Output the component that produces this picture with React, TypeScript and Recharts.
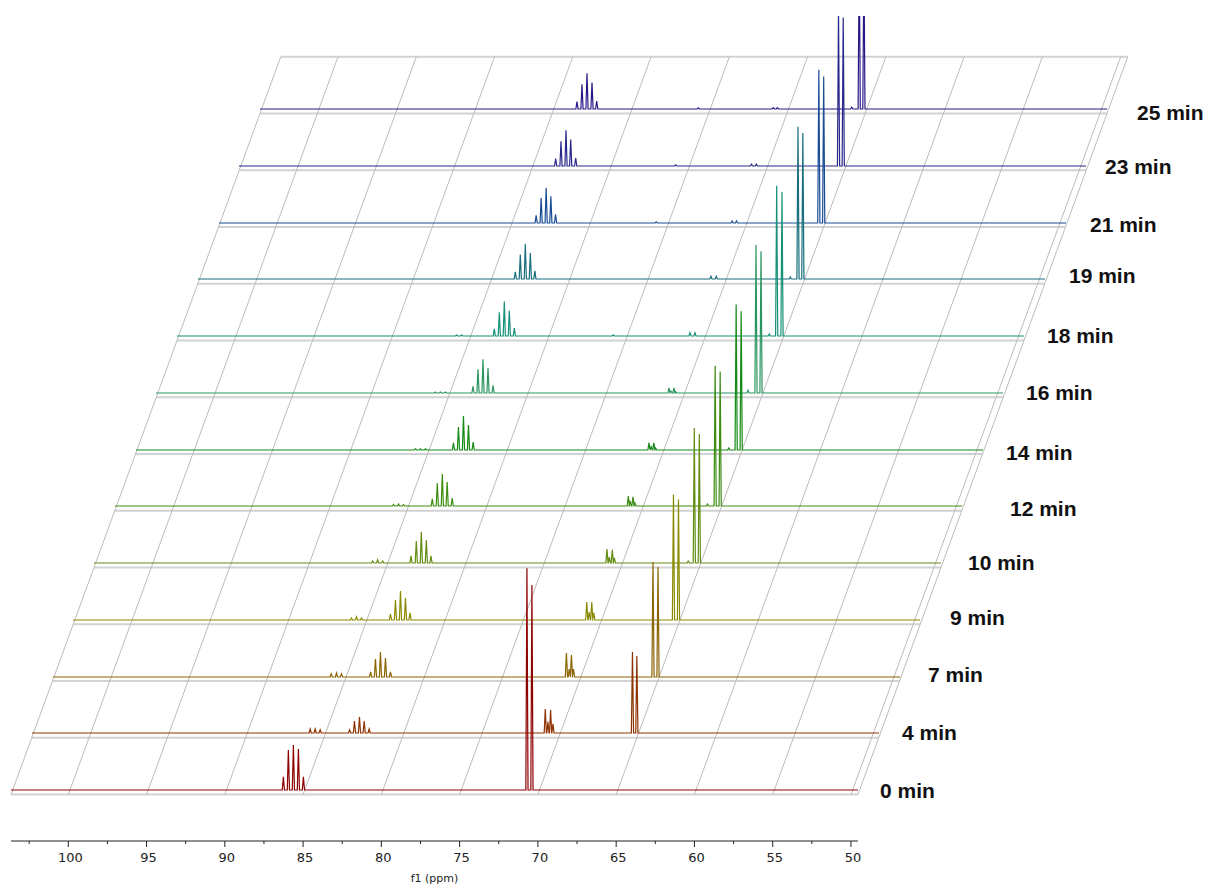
import { ComposedChart, LineChart, Line, XAxis, YAxis, ReferenceLine } from 'recharts';

// time point of each trace, bottom to top
const TIMES = ['0 min', '4 min', '7 min', '9 min', '10 min', '12 min', '14 min', '16 min', '18 min', '19 min', '21 min', '23 min', '25 min'];

const COLORS = [
  '#8f0000', '#8f3300', '#8c6400', '#8a8a00', '#628c12', '#3d8c12', '#168a16',
  '#2a9560', '#169077', '#186d7d', '#194c96', '#28288c', '#2b1888',
];

// peak lists per trace: [ppm, intensity] (tallest 0 min peak = 100)
const PEAKS_0: [number, number][] = [
  [86.26, 5.9], [85.94, 18.0], [85.62, 20.3], [85.3, 18.5], [84.98, 5.9],
  [70.7, 100], [70.38, 92.5],
];
const PEAKS_4: [number, number][] = [
  [85.89, 1.8], [85.57, 1.8], [85.25, 1.4],
  [83.37, 1.4], [83.06, 5.4], [82.74, 7.2], [82.44, 5.4], [82.12, 1.8],
  [70.87, 10.8], [70.7, 5.0], [70.53, 10.4], [70.38, 4.1],
  [65.3, 36.5], [65.02, 34.7],
];
const PEAKS_7: [number, number][] = [
  [85.89, 1.4], [85.55, 1.8], [85.23, 1.4],
  [83.37, 2.3], [83.06, 8.1], [82.74, 11.3], [82.42, 8.6], [82.1, 2.3],
  [70.86, 10.8], [70.68, 3.6], [70.54, 9.9], [70.41, 3.6],
  [65.33, 51.9], [65.01, 49.6],
];
const PEAKS_9: [number, number][] = [
  [85.87, 0.9], [85.55, 1.4], [85.23, 0.9],
  [83.38, 2.7], [83.06, 9.0], [82.74, 13.1], [82.42, 9.9], [82.13, 3.2],
  [70.84, 8.1], [70.68, 3.6], [70.52, 8.1], [70.39, 3.2],
  [65.3, 56.6], [64.98, 54.3],
];
const PEAKS_10: [number, number][] = [
  [85.86, 0.9], [85.54, 1.4], [85.22, 0.9],
  [83.41, 3.2], [83.07, 9.9], [82.75, 14.0], [82.43, 10.4], [82.13, 3.2],
  [70.89, 6.3], [70.74, 2.7], [70.55, 5.9], [70.42, 2.3],
  [65.7, 0.9], [65.31, 60.9], [64.99, 58.2],
];
const PEAKS_12: [number, number][] = [
  [85.87, 0.7], [85.55, 0.9], [85.23, 0.7],
  [83.39, 3.2], [83.07, 10.4], [82.75, 14.4], [82.44, 10.8], [82.12, 3.6],
  [70.87, 4.5], [70.75, 2.3], [70.57, 4.1], [70.45, 1.4],
  [65.81, 0.9], [65.32, 63.3], [65.0, 60.7],
];
const PEAKS_14: [number, number][] = [
  [85.81, 0.5], [85.49, 0.5], [85.17, 0.5],
  [83.38, 3.2], [83.06, 10.4], [82.74, 15.3], [82.42, 11.3], [82.12, 3.6],
  [70.89, 3.2], [70.75, 1.4], [70.58, 3.2], [70.46, 0.9],
  [65.79, 0.9], [65.32, 65.6], [65.0, 62.6],
];
const PEAKS_16: [number, number][] = [
  [85.81, 0.45], [85.49, 0.45], [85.17, 0.45],
  [83.41, 3.0], [83.09, 10.7], [82.77, 15.2], [82.45, 11.3], [82.13, 3.5],
  [70.89, 2.3], [70.76, 0.9], [70.57, 2.3], [70.46, 0.6],
  [65.84, 1.2], [65.33, 66.8], [65.01, 63.9],
];
const PEAKS_18: [number, number][] = [
  [85.8, 0.4], [85.47, 0.4],
  [83.39, 3.2], [83.07, 10.7], [82.75, 15.5], [82.43, 11.4], [82.11, 3.6],
  [75.79, 0.5],
  [70.89, 1.5], [70.57, 1.4],
  [65.82, 0.9], [65.35, 67.8], [65.01, 64.9],
];
const PEAKS_19: [number, number][] = [
  [83.39, 3.2], [83.07, 11.0], [82.75, 15.8], [82.43, 11.7], [82.14, 3.7],
  [70.89, 1.2], [70.55, 1.2],
  [65.82, 0.9], [65.33, 68.7], [65.02, 65.8],
];
const PEAKS_21: [number, number][] = [
  [83.4, 3.5], [83.08, 11.3], [82.76, 15.9], [82.46, 12.0], [82.16, 3.9],
  [75.73, 0.5],
  [70.88, 0.9], [70.6, 0.9],
  [65.34, 69.1], [65.03, 66.1],
];
const PEAKS_23: [number, number][] = [
  [83.43, 3.3], [83.09, 11.1], [82.77, 16.1], [82.47, 11.9], [82.15, 3.6],
  [75.76, 0.5],
  [70.92, 0.8], [70.61, 0.8],
  [65.36, 70.0], [65.06, 67.0],
];
const PEAKS_25: [number, number][] = [
  [83.41, 3.3], [83.09, 11.1], [82.77, 16.1], [82.45, 11.9], [82.15, 3.6],
  [75.66, 0.5],
  [70.87, 0.6], [70.61, 0.6],
  [65.86, 0.8], [65.38, 70.5], [65.08, 67.5],
];

const PEAKS = [
  PEAKS_0, PEAKS_4, PEAKS_7, PEAKS_9, PEAKS_10, PEAKS_12, PEAKS_14,
  PEAKS_16, PEAKS_18, PEAKS_19, PEAKS_21, PEAKS_23, PEAKS_25,
];

const TICKS = [50, 52.5, 55, 57.5, 60, 62.5, 65, 67.5, 70, 72.5, 75, 77.5, 80, 82.5, 85, 87.5, 90, 92.5, 95, 97.5, 100, 102.5];
const GRID_PPM = [100, 95, 90, 85, 80, 75, 70, 65, 60, 55, 50];

// layout
const W = 1210;
const H = 887;
const PPM_MIN = 49.55;
const PPM_MAX = 103.66;
const PLOT_LEFT = 11;
const PLOT_RIGHT = 858;
const BASE_Y = 790; // baseline of the 0 min trace
const FLOOR_GAP = 4.5; // grey floor line below each baseline
const ROW_DX = 20.75;
const ROW_DY = 56.75;
const AXIS_Y = 841;
const CLIP_TOP = 16;
const PX_PER_UNIT = 2.217;
const HALF_WIDTH = 0.07;
const N_ROWS = 13;
const LABEL_POS: [number, number][] = [
  [880, 790], [902, 732], [928, 674], [950, 617], [968, 562], [1010, 508], [1006, 452],
  [1026, 392], [1047, 335], [1069, 275], [1090, 224], [1105, 166], [1137, 112],
];

const PLOT_W = PLOT_RIGHT - PLOT_LEFT;
const PPM_PER_ROW = ROW_DX / (PLOT_W / (PPM_MAX - PPM_MIN));
const FLOOR_Y = BASE_Y + FLOOR_GAP;
const GRID_TOP = FLOOR_Y - N_ROWS * ROW_DY;
const TRACE_H = BASE_Y - CLIP_TOP;

const buildTrace = (peaks: [number, number][]) => {
  const pts = [{ ppm: PPM_MAX, v: 0 }];
  [...peaks].sort((a, b) => b[0] - a[0]).forEach(([p, h]) => {
    pts.push({ ppm: p + HALF_WIDTH, v: 0 }, { ppm: p, v: h }, { ppm: p - HALF_WIDTH, v: 0 });
  });
  pts.push({ ppm: PPM_MIN, v: 0 });
  return pts;
};

const AxisTick = (props: any) => {
  const { x, y, payload } = props;
  const major = payload.value % 5 === 0;
  return (
    <g>
      <line x1={x} x2={x} y1={y} y2={y + (major ? 6 : 3)} stroke="#222" />
      {major && (
        <text x={x + 2} y={y + 21} textAnchor="middle" fontSize={13} fontFamily="DejaVu Sans" fill="#222">
          {payload.value}
        </text>
      )}
    </g>
  );
};

const App = () => {
  const traces = PEAKS.map(buildTrace);
  const rows = Array.from({ length: N_ROWS }, (_, k) => k);
  const yMin = -(AXIS_Y - FLOOR_Y) / ROW_DY;
  const edges = [PPM_MAX, ...GRID_PPM, PPM_MIN];

  return (
    <div style={{ position: 'absolute', left: 0, top: 0, width: W, height: H, background: '#fff', fontFamily: 'DejaVu Sans' }}>
      <ComposedChart
        width={W}
        height={H}
        data={[]}
        margin={{ top: GRID_TOP, right: W - PLOT_RIGHT, bottom: 0, left: PLOT_LEFT }}
      >
        <XAxis
          type="number"
          dataKey="ppm"
          domain={[PPM_MIN, PPM_MAX]}
          reversed
          allowDataOverflow
          ticks={TICKS}
          interval={0}
          height={H - AXIS_Y}
          tickSize={0}
          tickMargin={0}
          tickLine={false}
          tick={AxisTick}
          axisLine={{ stroke: '#222' }}
          label={{ value: 'f1 (ppm)', position: 'insideBottom', offset: 5, fontSize: 11, fill: '#222', fontFamily: 'DejaVu Sans' }}
        />
        <YAxis type="number" domain={[yMin, N_ROWS]} hide allowDataOverflow />
        {rows.concat(N_ROWS).map((r) => (
          <ReferenceLine
            key={`floor-${r}`}
            segment={[
              { x: PPM_MAX - r * PPM_PER_ROW, y: r },
              { x: PPM_MIN - r * PPM_PER_ROW, y: r },
            ]}
            stroke="#d2d2d2"
            strokeWidth={2}
            ifOverflow="visible"
          />
        ))}
        {edges.map((p) => (
          <ReferenceLine
            key={`slant-${p}`}
            segment={[
              { x: p, y: 0 },
              { x: p - N_ROWS * PPM_PER_ROW, y: N_ROWS },
            ]}
            stroke="#bcbcbc"
            strokeWidth={1}
            ifOverflow="visible"
          />
        ))}
      </ComposedChart>

      <div style={{ position: 'absolute', left: 0, top: CLIP_TOP, width: W, height: AXIS_Y - CLIP_TOP, overflow: 'hidden' }}>
        {[...rows].reverse().map((k) => (
          <div key={TIMES[k]} style={{ position: 'absolute', left: PLOT_LEFT + k * ROW_DX, top: -k * ROW_DY }}>
            <LineChart width={PLOT_W} height={TRACE_H + 3} data={traces[k]} margin={{ top: 0, right: 0, bottom: 3, left: 0 }}>
              <XAxis type="number" dataKey="ppm" domain={[PPM_MIN, PPM_MAX]} reversed hide />
              <YAxis type="number" domain={[0, TRACE_H / PX_PER_UNIT]} hide />
              <Line type="linear" dataKey="v" stroke={COLORS[k]} strokeWidth={1.2} dot={false} isAnimationActive={false} />
            </LineChart>
          </div>
        ))}
      </div>

      {TIMES.map((t, k) => (
        <div
          key={t}
          style={{
            position: 'absolute',
            left: LABEL_POS[k][0],
            top: LABEL_POS[k][1],
            transform: 'translateY(-50%)',
            fontFamily: '"Liberation Sans", Arial, sans-serif',
            fontWeight: 'bold',
            fontSize: 21,
            lineHeight: 1,
            color: '#111',
            whiteSpace: 'nowrap',
          }}
        >
          {t}
        </div>
      ))}
    </div>
  );
};

export default App;
